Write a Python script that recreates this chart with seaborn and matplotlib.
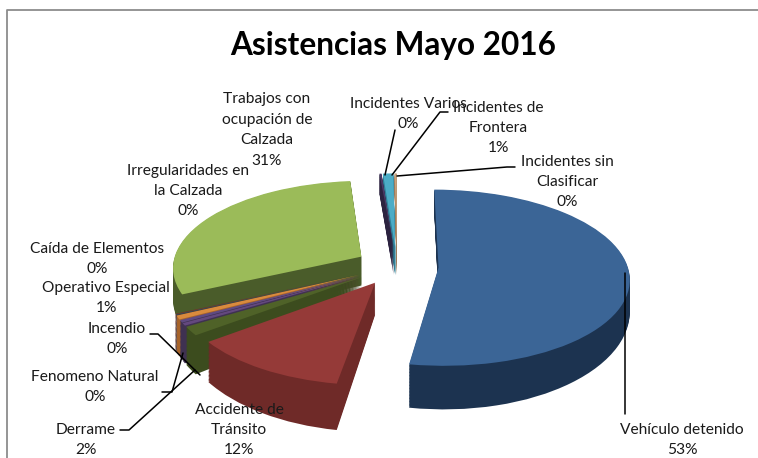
import numpy as np
import matplotlib
matplotlib.use('Agg')
import matplotlib.pyplot as plt
from matplotlib.transforms import Transform
import seaborn as sns

categories = ['Vehículo detenido', 'Accidente de\nTránsito', 'Derrame', 'Fenomeno Natural',
              'Incendio', 'Operativo Especial', 'Caída de Elementos', 'Irregularidades en\nla Calzada',
              'Trabajos con\nocupación de\nCalzada', 'Incidentes Varios', 'Incidentes de\nFrontera',
              'Incidentes sin\nClasificar']
values = [52.6, 12.0, 1.6, 0.45, 0.45, 0.7, 0.1, 0.1, 30.6, 0.2, 1.0, 0.2]

top_colors = ['#3b6596', '#953a38', '#4f6228', '#64487f', '#5f4a82', '#d98a3d',
              '#2c4d74', '#772c2a', '#9bbb59', '#4b3a66', '#4bacc6', '#c9a27c']
side_colors = ['#1c3350', '#6f2a28', '#3c4c1e', '#3f3151', '#3f3151', '#a8642a',
               '#1c3350', '#5a2120', '#4a5c2a', '#2c2340', '#2f7f96', '#9a7a5a']

# where each label block sits, in picture pixels
label_pos = [(682, 440), (239, 430), (86, 440), (95, 387), (117, 339), (106, 298),
             (97, 259), (188, 191), (267, 130), (408, 114), (498, 128), (567, 182)]
leaders = [
    [(625, 273), (625, 414)],
    [(120, 430), (129, 430), (195, 370)],
    [(162, 392), (172, 392), (183, 353)],
    [(150, 334), (158, 334), (200, 375)],
    [(395, 130), (385, 175)],
    [(448, 112), (440, 112), (392, 175)],
    [(515, 167), (507, 167), (397, 176)],
]

W, H = 758, 458
cx, cy = 397, 266
radius_px = 189
squash = 0.458
persp = 0.115
depth_px = 30


class Tilt(Transform):
    # lays the flat pie down on the table, the far side smaller than the near side
    input_dims = 2
    output_dims = 2

    def __init__(self, drop):
        super().__init__()
        self.drop = drop

    def transform_non_affine(self, xy):
        xy = np.asarray(xy, dtype=float)
        f = 1 / (1 + persp * xy[:, 1])
        return np.column_stack([xy[:, 0] * f, squash * xy[:, 1] * f - self.drop * f ** 3])


sns.set_theme(style='white')
plt.rcParams['font.family'] = ['Lato', 'DejaVu Sans']

fig = plt.figure(figsize=(W / 100, H / 100), dpi=100)
ax = fig.add_axes([0, 0, 1, 1])

explode = [0.22] * len(values)

# side walls first, deepest layer up, then the top faces
for d in range(depth_px, -1, -1):
    colors = side_colors if d > 0 else sns.color_palette(top_colors)
    wedges, _ = ax.pie(values, colors=colors, explode=explode, startangle=90, counterclock=False,
                       wedgeprops={'linewidth': 0})
    for w in wedges:
        w.set_transform(Tilt(d / radius_px) + ax.transData)

ax.set_aspect('auto')
ax.set_xlim(-cx / radius_px, (W - cx) / radius_px)
ax.set_ylim(-(H - cy) / radius_px, cy / radius_px)
ax.axis('off')

# overlay in pixels for the text, leader lines and frame
ov = fig.add_axes([0, 0, 1, 1])
ov.set_xlim(0, W)
ov.set_ylim(H, 0)
ov.axis('off')
ov.patch.set_alpha(0)

ov.plot([7, 7, W], [H, 10, 10], color='#8c8c8c', lw=1.3)
for pts in leaders:
    ov.plot([p[0] for p in pts], [p[1] for p in pts], color='black', lw=1.1)

ov.text(393, 46, 'Asistencias Mayo 2016', ha='center', va='center', fontsize=22.7,
        fontweight='bold', color='black')
for name, v, (x, y) in zip(categories, values, label_pos):
    ov.text(x, y, f'{name}\n{round(v)}%', ha='center', va='center', fontsize=11.2,
            color='#1a1a1a', linespacing=1.58)

plt.savefig('out.png', dpi=100)
